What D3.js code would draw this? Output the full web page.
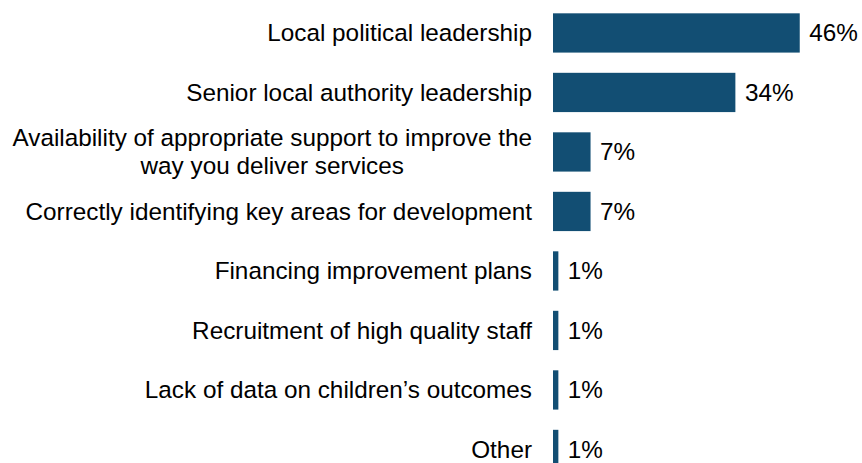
<!DOCTYPE html>
<html>
<head>
<meta charset="utf-8">
<script src="https://cdn.jsdelivr.net/npm/d3@7"></script>
<style>
  html, body { margin: 0; padding: 0; background: #ffffff; }
  svg { display: block; }
  text { font-family: Arial, "Liberation Sans", sans-serif; fill: #000; }
</style>
</head>
<body>
<svg id="chart" width="862" height="463"></svg>
<script>
const categories = [
  "Local political leadership",
  "Senior local authority leadership",
  "Availability of appropriate support to improve the\nway you deliver services",
  "Correctly identifying key areas for development",
  "Financing improvement plans",
  "Recruitment of high quality staff",
  "Lack of data on children\u2019s outcomes",
  "Other"
];
const values = [46, 34, 7, 7, 1, 1, 1, 1];
const valueLabels = ["46%", "34%", "7%", "7%", "1%", "1%", "1%", "1%"];

const W = 862, H = 463;
const svg = d3.select("#chart");

const barLeft = 553;
const x = d3.scaleLinear().domain([0, 50]).range([barLeft, barLeft + 268.2]);
const y = d3.scaleBand()
  .domain(categories)
  .range([3.2, 479.2])
  .paddingInner(0.34)
  .paddingOuter(0.17);

const color = "#124E73";
const fontSize = 24.3;
const lineH = fontSize * 1.15;

const data = categories.map((c, i) => ({ cat: c, v: values[i], lab: valueLabels[i] }));

// bars
svg.append("g").selectAll("rect").data(data).join("rect")
  .attr("x", x(0))
  .attr("y", d => y(d.cat))
  .attr("width", d => x(d.v) - x(0))
  .attr("height", y.bandwidth())
  .attr("fill", color);

// value labels
svg.append("g").selectAll("text").data(data).join("text")
  .attr("x", d => x(d.v) + 9.5)
  .attr("y", d => y(d.cat) + y.bandwidth() / 2)
  .attr("dy", "0.35em")
  .style("font-size", fontSize + "px")
  .text(d => d.lab);

// category labels
const labelRight = 532;
const lg = svg.append("g");
data.forEach(d => {
  const lines = d.cat.split("\n");
  const cy = y(d.cat) + y.bandwidth() / 2;
  const t = lg.append("text").style("font-size", fontSize + "px");
  const n = lines.length;
  lines.forEach((ln, j) => {
    t.append("tspan")
      .attr("y", cy + (j - (n - 1) / 2) * lineH)
      .attr("dy", "0.35em")
      .text(ln);
  });
  if (n === 1) {
    t.attr("text-anchor", "end").selectAll("tspan").attr("x", labelRight);
  } else {
    let maxW = 0;
    t.selectAll("tspan").each(function () { maxW = Math.max(maxW, this.getComputedTextLength()); });
    t.attr("text-anchor", "middle").selectAll("tspan").attr("x", labelRight - maxW / 2);
  }
});
</script>
</body>
</html>
